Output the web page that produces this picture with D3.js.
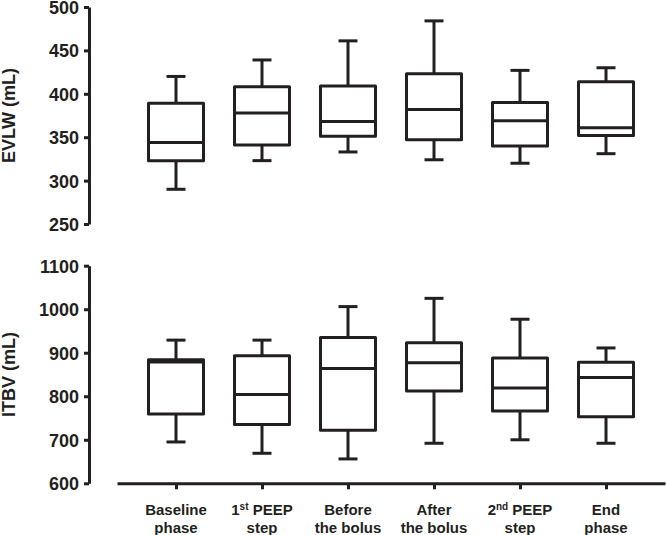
<!DOCTYPE html>
<html>
<head>
<meta charset="utf-8">
<script src="https://cdn.jsdelivr.net/npm/d3@7"></script>
<style>
  html, body { margin: 0; padding: 0; background: #fff; }
  svg { display: block; }
  text { font-family: "Liberation Sans", Arial, Helvetica, sans-serif; font-weight: bold; fill: #231f20; }
</style>
</head>
<body>
<svg id="chart" width="666" height="535"></svg>
<script>
// Categories (line 1, superscript, rest of line 1, line 2)
const categories = ["Baseline phase", "1st PEEP step", "Before the bolus", "After the bolus", "2nd PEEP step", "End phase"];
const labelLine1 = [["Baseline", "", ""], ["1", "st", " PEEP"], ["Before", "", ""], ["After", "", ""], ["2", "nd", " PEEP"], ["End", "", ""]];
const labelLine2 = ["phase", "step", "the bolus", "the bolus", "step", "phase"];

// EVLW (mL)
const evlwMin = [290, 323, 333, 324, 320, 331];
const evlwQ1  = [323, 341, 351, 347, 340, 352];
const evlwMed = [344, 378, 368, 382, 369, 361];
const evlwQ3  = [389, 408, 409, 423, 390, 414];
const evlwMax = [420, 439, 461, 484, 427, 430];

// ITBV (mL)
const itbvMin = [695, 669, 656, 692, 700, 692];
const itbvQ1  = [759, 735, 722, 812, 766, 753];
const itbvMed = [879, 804, 864, 877, 819, 843];
const itbvQ3  = [884, 893, 935, 923, 888, 878];
const itbvMax = [929, 929, 1006, 1025, 977, 911];

const evlwTicks = [250, 300, 350, 400, 450, 500];
const itbvTicks = [600, 700, 800, 900, 1000, 1100];

const ink = "#231f20";
const svg = d3.select("#chart");

const x = d3.scalePoint().domain(categories).range([117, 665]).padding(0.686);
const boxW = 55, capW = 19, sw = 3;
const axisX = 89;

function panel(yDomain, yRange, ticks, title, mins, q1s, meds, q3s, maxs, withXAxis) {
  const y = d3.scaleLinear().domain(yDomain).range(yRange);
  const g = svg.append("g");

  const ya = g.append("g")
    .attr("transform", `translate(${axisX},0)`)
    .call(d3.axisLeft(y).tickValues(ticks).tickSize(5).tickSizeOuter(0).tickPadding(5).tickFormat(d3.format("d")));
  ya.select(".domain").attr("stroke", ink).attr("stroke-width", sw);
  ya.selectAll(".tick line").attr("stroke", ink).attr("stroke-width", sw);
  ya.selectAll(".tick text").attr("font-size", 18).attr("font-family", null).attr("fill", ink).attr("dy", "0.36em");

  const mid = (yRange[0] + yRange[1]) / 2;
  g.append("text")
    .attr("transform", `translate(15,${mid}) rotate(-90)`)
    .attr("text-anchor", "middle")
    .attr("font-size", 18)
    .text(title);

  const data = categories.map((c, i) => ({ c, min: mins[i], q1: q1s[i], med: meds[i], q3: q3s[i], max: maxs[i] }));
  const b = g.append("g").selectAll("g").data(data).join("g");
  const st = s => s.attr("stroke", ink).attr("stroke-width", sw).attr("fill", "none");

  b.append("line").call(st).attr("x1", d => x(d.c)).attr("x2", d => x(d.c)).attr("y1", d => y(d.max)).attr("y2", d => y(d.q3));
  b.append("line").call(st).attr("x1", d => x(d.c)).attr("x2", d => x(d.c)).attr("y1", d => y(d.q1)).attr("y2", d => y(d.min));
  b.append("line").call(st).attr("x1", d => x(d.c) - capW / 2).attr("x2", d => x(d.c) + capW / 2).attr("y1", d => y(d.max)).attr("y2", d => y(d.max));
  b.append("line").call(st).attr("x1", d => x(d.c) - capW / 2).attr("x2", d => x(d.c) + capW / 2).attr("y1", d => y(d.min)).attr("y2", d => y(d.min));
  b.append("rect").call(st).attr("stroke-linejoin", "round")
    .attr("x", d => x(d.c) - boxW / 2).attr("width", boxW)
    .attr("y", d => y(d.q3)).attr("height", d => y(d.q1) - y(d.q3));
  b.append("line").call(st).attr("x1", d => x(d.c) - boxW / 2).attr("x2", d => x(d.c) + boxW / 2).attr("y1", d => y(d.med)).attr("y2", d => y(d.med));

  if (withXAxis) {
    const xa = g.append("g")
      .attr("transform", `translate(0,${yRange[0]})`)
      .call(d3.axisBottom(x).tickSize(6).tickSizeOuter(0).tickFormat(""));
    xa.select(".domain").attr("stroke", ink).attr("stroke-width", sw);
    xa.selectAll(".tick line").attr("stroke", ink).attr("stroke-width", sw);
    xa.selectAll(".tick text").remove();

    const lab = g.append("g").selectAll("text").data(categories).join("text")
      .attr("x", d => x(d)).attr("y", 515)
      .attr("text-anchor", "middle").attr("font-size", 15);
    lab.each(function (d, i) {
      const t = d3.select(this);
      const [a, sup, rest] = labelLine1[i];
      t.append("tspan").text(a);
      if (sup) {
        t.append("tspan").attr("font-size", 10).attr("dy", -5).text(sup);
        t.append("tspan").attr("dy", 5).text(rest);
      }
      t.append("tspan").attr("x", x(d)).attr("dy", 18).text(labelLine2[i]);
    });
  }
}

panel([250, 500], [224, 7], evlwTicks, "EVLW (mL)", evlwMin, evlwQ1, evlwMed, evlwQ3, evlwMax, false);
panel([600, 1100], [483.3, 265.7], itbvTicks, "ITBV (mL)", itbvMin, itbvQ1, itbvMed, itbvQ3, itbvMax, true);
</script>
</body>
</html>
